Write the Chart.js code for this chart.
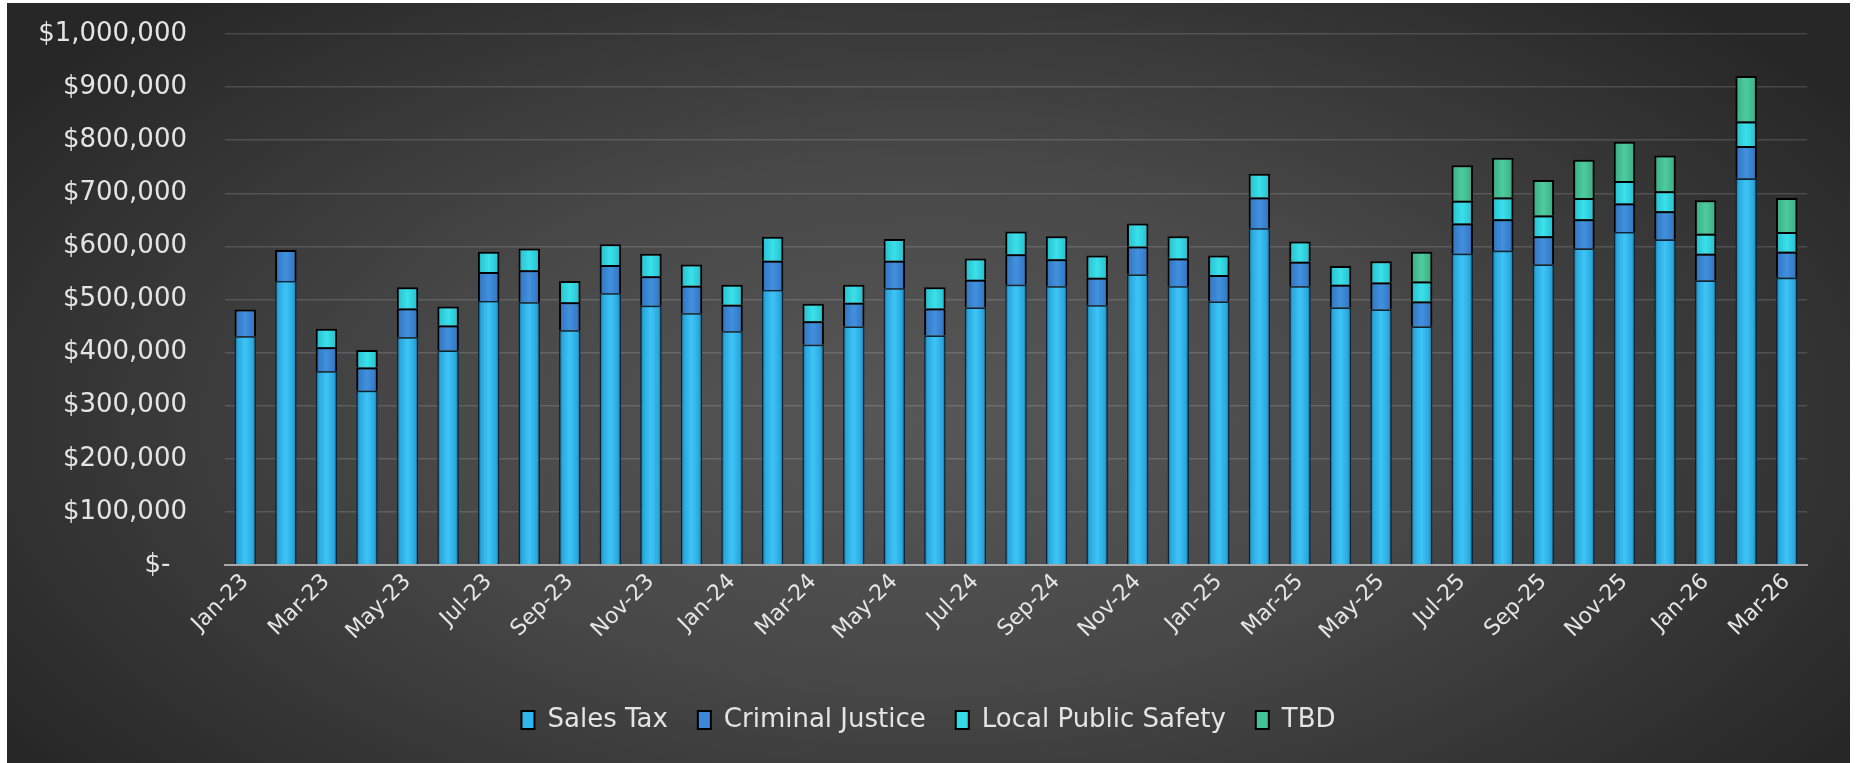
<!DOCTYPE html>
<html>
<head>
<meta charset="utf-8">
<script src="https://cdn.jsdelivr.net/npm/chart.js@4.4.1/dist/chart.umd.min.js"></script>
<style>
  html, body { margin: 0; padding: 0; background: #ffffff; width: 1857px; height: 763px; overflow: hidden; }
  #wrap {
    position: absolute; left: 7px; top: 3px; width: 1843px; height: 760px;
    background: radial-gradient(ellipse 60% 75% at 50% 55%, #575757 0%, #484848 45%, #333333 80%, #272727 100%);
  }
  canvas { display: block; }
</style>
</head>
<body>
<div id="wrap"><canvas id="c" width="1843" height="760"></canvas></div>
<script>
const months = ["Jan-23","Feb-23","Mar-23","Apr-23","May-23","Jun-23","Jul-23","Aug-23","Sep-23","Oct-23","Nov-23","Dec-23",
  "Jan-24","Feb-24","Mar-24","Apr-24","May-24","Jun-24","Jul-24","Aug-24","Sep-24","Oct-24","Nov-24","Dec-24",
  "Jan-25","Feb-25","Mar-25","Apr-25","May-25","Jun-25","Jul-25","Aug-25","Sep-25","Oct-25","Nov-25","Dec-25",
  "Jan-26","Feb-26","Mar-26"];

const salesTax = [431000,535000,365000,328000,429000,404000,497000,495000,442000,512000,488000,474000,
  440000,518000,415000,449000,521000,432000,485000,528000,525000,489000,547000,525000,
  496000,634000,525000,485000,481000,449000,586000,592000,566000,596000,627000,613000,
  536000,728000,541000];

const criminalJustice = [50000,58000,45000,44000,54000,47000,55000,60000,53000,53000,56000,52000,
  50000,55000,44000,45000,52000,51000,52000,57000,51000,52000,53000,52000,
  50000,58000,46000,43000,51000,47000,57000,59000,53000,55000,54000,53000,
  50000,61000,49000];

const localPublicSafety = [null,null,35000,33000,40000,36000,38000,41000,40000,39000,42000,40000,
  38000,45000,33000,34000,41000,40000,40000,43000,43000,42000,43000,42000,
  37000,45000,38000,35000,40000,38000,43000,41000,39000,40000,42000,38000,
  38000,46000,37000];

const tbd = [null,null,null,null,null,null,null,null,null,null,null,null,
  null,null,null,null,null,null,null,null,null,null,null,null,
  null,null,null,null,null,56000,67000,75000,67000,72000,74000,67000,
  63000,86000,64000];

const yTicks = [0,100000,200000,300000,400000,500000,600000,700000,800000,900000,1000000];

const BAR_PCT = 0.53;

function barGradient(flat, edge, mid, center) {
  return function(ctx) {
    const chart = ctx.chart;
    const area = chart.chartArea;
    if (!area || ctx.dataIndex === undefined || ctx.type !== 'data') return flat;
    const xs = chart.scales.x;
    const x = xs.getPixelForValue(ctx.dataIndex);
    const cw = (area.right - area.left) / months.length;
    const w = cw * BAR_PCT;
    const g = chart.ctx.createLinearGradient(x - w / 2, 0, x + w / 2, 0);
    g.addColorStop(0, edge);
    g.addColorStop(0.15, mid);
    g.addColorStop(0.5, center);
    g.addColorStop(0.85, mid);
    g.addColorStop(1, edge);
    return g;
  };
}

const legendColors = ['#2fb6ec', '#3a88d6', '#33dbe6', '#46c396'];

const FONT = "'DejaVu Sans', 'Noto Sans', sans-serif";

new Chart(document.getElementById('c'), {
  type: 'bar',
  data: {
    labels: months,
    datasets: [
      { label: 'Sales Tax', data: salesTax,
        backgroundColor: barGradient('#2fb4ea', '#11628c', '#2aa8de', '#3ec4f7'),
        borderColor: '#0c2434', borderWidth: 1.5 },
      { label: 'Criminal Justice', data: criminalJustice,
        backgroundColor: barGradient('#3a88d6', '#2664a4', '#347cc8', '#4290de'),
        borderColor: '#000000', borderWidth: 2 },
      { label: 'Local Public Safety', data: localPublicSafety,
        backgroundColor: barGradient('#31d6e2', '#1ea8b4', '#2bc8d6', '#3ae0ea'),
        borderColor: '#000000', borderWidth: 2 },
      { label: 'TBD', data: tbd,
        backgroundColor: barGradient('#45c194', '#2f9572', '#3fb58a', '#4fcba0'),
        borderColor: '#000000', borderWidth: 2 }
    ]
  },
  options: {
    responsive: false,
    animation: false,
    maintainAspectRatio: false,
    datasets: { bar: { categoryPercentage: 1.0, barPercentage: BAR_PCT } },
    layout: { padding: { top: 31, right: 0, bottom: 20, left: 0 } },
    plugins: {
      legend: {
        position: 'bottom',
        labels: {
          color: '#e4e4e4',
          font: { family: FONT, size: 26 },
          boxWidth: 13, boxHeight: 18,
          padding: 30,
          generateLabels: function(chart) {
            return chart.data.datasets.map((ds, i) => ({
              text: ds.label,
              fillStyle: legendColors[i],
              strokeStyle: '#000000',
              lineWidth: 2,
              fontColor: '#e4e4e4',
              hidden: false,
              datasetIndex: i
            }));
          }
        }
      },
      tooltip: { enabled: false }
    },
    scales: {
      x: {
        stacked: true,
        grid: { display: false, drawTicks: false },
        border: { display: true, color: '#a9a9a9', width: 2 },
        ticks: {
          color: '#e4e4e4',
          font: { family: FONT, size: 22 },
          autoSkip: false,
          maxRotation: 45, minRotation: 45,
          padding: 4,
          callback: function(v, i) { return i % 2 === 0 ? months[i] : ''; }
        },
        afterFit: function(s) { s.height = 112; }
      },
      y: {
        stacked: true,
        min: 0, max: 1000000,
        afterBuildTicks: function(s) { s.ticks = yTicks.map(v => ({ value: v })); },
        grid: { color: 'rgba(255,255,255,0.14)', lineWidth: 1.5, drawTicks: true, tickLength: 30, tickColor: 'rgba(0,0,0,0)' },
        border: { display: false },
        ticks: {
          color: '#e4e4e4',
          font: { family: FONT, size: 26 },
          padding: 8,
          callback: function(v) { return v === 0 ? '$-  ' : '$' + Number(v).toLocaleString('en-US'); }
        },
        afterFit: function(s) { s.width = 218; }
      },
      yRightSpace: {
        type: 'linear',
        position: 'right',
        display: true,
        min: 0, max: 1,
        grid: { display: false, drawTicks: false },
        border: { display: false },
        ticks: { display: false },
        afterFit: function(s) { s.width = 43; }
      }
    }
  }
});
</script>
</body>
</html>
